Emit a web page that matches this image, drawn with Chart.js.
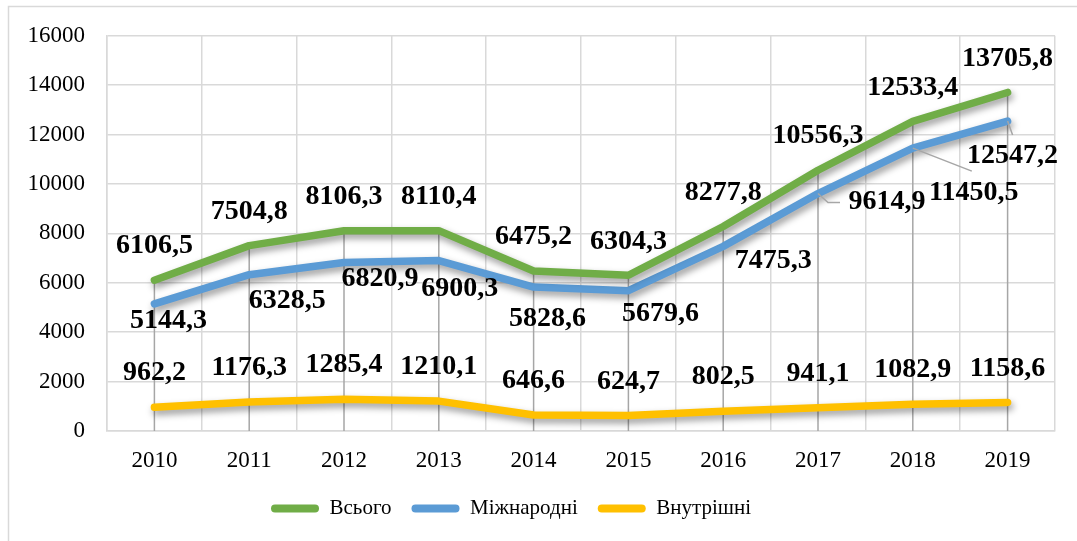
<!DOCTYPE html>
<html>
<head>
<meta charset="utf-8">
<script src="https://cdn.jsdelivr.net/npm/chart.js@4.4.1/dist/chart.umd.min.js"></script>
<style>
  html, body { margin: 0; padding: 0; background: #fff; }
  #wrap { width: 1077px; height: 541px; position: relative; }
</style>
</head>
<body>
<div id="wrap"><canvas id="chart" width="1077" height="541"></canvas></div>
<script>
// --- Datos ---
const years = ["2010", "2011", "2012", "2013", "2014", "2015", "2016", "2017", "2018", "2019"];
const total = [6106.5, 7504.8, 8106.3, 8110.4, 6475.2, 6304.3, 8277.8, 10556.3, 12533.4, 13705.8];
const international = [5144.3, 6328.5, 6820.9, 6900.3, 5828.6, 5679.6, 7475.3, 9614.9, 11450.5, 12547.2];
const domestic = [962.2, 1176.3, 1285.4, 1210.1, 646.6, 624.7, 802.5, 941.1, 1082.9, 1158.6];
const yTicks = [0, 2000, 4000, 6000, 8000, 10000, 12000, 14000, 16000];
const seriesNames = ["Всього", "Міжнародні", "Внутрішні"];

// --- Colores y estilos ---
const greenColor = "#70ad47";
const blueColor = "#5b9bd5";
const yellowColor = "#ffc000";
const gridColor = "#d9d9d9";
const dropColor = "#a6a6a6";
const fontFamily = '"Liberation Serif", "Times New Roman", serif';

// desplazamientos de etiquetas (azul) respecto al punto
const blueLabelOffsets = [
  [14, 17], [38, 26], [36, 16], [21, 28], [14, 32],
  [32, 23], [50, 14], [69, 8], [61, 45], [5, 35],
];
// líneas guía de etiquetas (azul)
const blueLeaders = {
  7: [[10, 9], [22, 9]],
  8: [[59, 23]],
  9: [[5, 14]],
};

const fmt = (v) => v.toFixed(1).replace(".", ",");

// marco exterior
const framePlugin = {
  id: "frame",
  beforeDraw(chart) {
    const ctx = chart.ctx;
    ctx.save();
    ctx.strokeStyle = gridColor;
    ctx.lineWidth = 1.5;
    ctx.strokeRect(8.5, 6.5, 1200, 700);
    ctx.restore();
  },
  afterLayout(chart) {
    // leyenda un poco a la izquierda, como en el original
    if (chart.legend) chart.legend.right -= 33;
  },
};

// líneas de proyección desde la serie superior
const dropLinesPlugin = {
  id: "dropLines",
  beforeDatasetsDraw(chart) {
    const ctx = chart.ctx;
    const meta = chart.getDatasetMeta(0);
    const bottom = chart.chartArea.bottom;
    ctx.save();
    ctx.strokeStyle = dropColor;
    ctx.lineWidth = 1.5;
    meta.data.forEach((pt) => {
      ctx.beginPath();
      ctx.moveTo(pt.x, pt.y);
      ctx.lineTo(pt.x, bottom);
      ctx.stroke();
    });
    ctx.restore();
  },
};

// sombra de las líneas
const shadowPlugin = {
  id: "lineShadow",
  beforeDatasetDraw(chart) {
    const ctx = chart.ctx;
    ctx.save();
    ctx.shadowColor = "rgba(0, 0, 0, 0.4)";
    ctx.shadowBlur = 7;
    ctx.shadowOffsetX = 2;
    ctx.shadowOffsetY = 4;
  },
  afterDatasetDraw(chart) {
    chart.ctx.restore();
  },
};

// etiquetas de datos
const labelsPlugin = {
  id: "valueLabels",
  afterDatasetsDraw(chart) {
    const ctx = chart.ctx;
    ctx.save();
    ctx.font = `bold 28px ${fontFamily}`;
    ctx.fillStyle = "#000";
    ctx.textAlign = "center";
    ctx.textBaseline = "middle";

    // líneas guía
    ctx.strokeStyle = dropColor;
    ctx.lineWidth = 1.5;
    const blueMeta = chart.getDatasetMeta(1);
    Object.keys(blueLeaders).forEach((k) => {
      const pt = blueMeta.data[k];
      ctx.beginPath();
      ctx.moveTo(pt.x, pt.y);
      blueLeaders[k].forEach(([dx, dy]) => ctx.lineTo(pt.x + dx, pt.y + dy));
      ctx.stroke();
    });

    chart.data.datasets.forEach((ds, di) => {
      const meta = chart.getDatasetMeta(di);
      meta.data.forEach((pt, i) => {
        let dx = 0, dy = -34;
        if (di === 1) [dx, dy] = blueLabelOffsets[i];
        ctx.fillText(fmt(ds.data[i]), pt.x + dx, pt.y + dy);
      });
    });
    ctx.restore();
  },
};

function lineDataset(label, data, color) {
  return {
    label: label,
    data: data,
    borderColor: color,
    backgroundColor: color,
    borderWidth: 7.5,
    pointRadius: 0,
    pointHoverRadius: 0,
    tension: 0,
    borderJoinStyle: "round",
    borderCapStyle: "round",
    fill: false,
  };
}

const ctx = document.getElementById("chart").getContext("2d");
new Chart(ctx, {
  type: "line",
  data: {
    labels: years,
    datasets: [
      lineDataset(seriesNames[0], total, greenColor),
      lineDataset(seriesNames[1], international, blueColor),
      lineDataset(seriesNames[2], domestic, yellowColor),
    ],
  },
  options: {
    responsive: false,
    animation: false,
    layout: { padding: { top: 35, right: 22, bottom: 12, left: 0 } },
    plugins: {
      legend: {
        position: "bottom",
        labels: {
          color: "#000",
          font: { family: fontFamily, size: 21 },
          boxWidth: 48,
          boxHeight: 8,
          padding: 20,
          useBorderRadius: true,
          borderRadius: 4,
          generateLabels(chart) {
            return Chart.defaults.plugins.legend.labels
              .generateLabels(chart)
              .map((l) => ({ ...l, lineWidth: 0, strokeStyle: "transparent" }));
          },
        },
      },
      tooltip: { enabled: false },
    },
    scales: {
      x: {
        offset: true,
        grid: { color: gridColor, lineWidth: 1.5, offset: true, drawTicks: false },
        border: { color: gridColor, width: 1.5 },
        ticks: { color: "#000", font: { family: fontFamily, size: 23 }, padding: 16 },
        afterFit(scale) { scale.height = 47; },
      },
      y: {
        min: 0,
        max: 16000,
        grid: { color: gridColor, lineWidth: 1.5, drawTicks: false },
        border: { color: gridColor, width: 1.5 },
        afterBuildTicks(scale) { scale.ticks = yTicks.map((v) => ({ value: v })); },
        ticks: {
          color: "#000",
          font: { family: fontFamily, size: 23 },
          padding: 22,
          callback: (v) => String(v),
        },
        afterFit(scale) { scale.width = 107; },
      },
    },
  },
  plugins: [framePlugin, dropLinesPlugin, shadowPlugin, labelsPlugin],
});
</script>
</body>
</html>
